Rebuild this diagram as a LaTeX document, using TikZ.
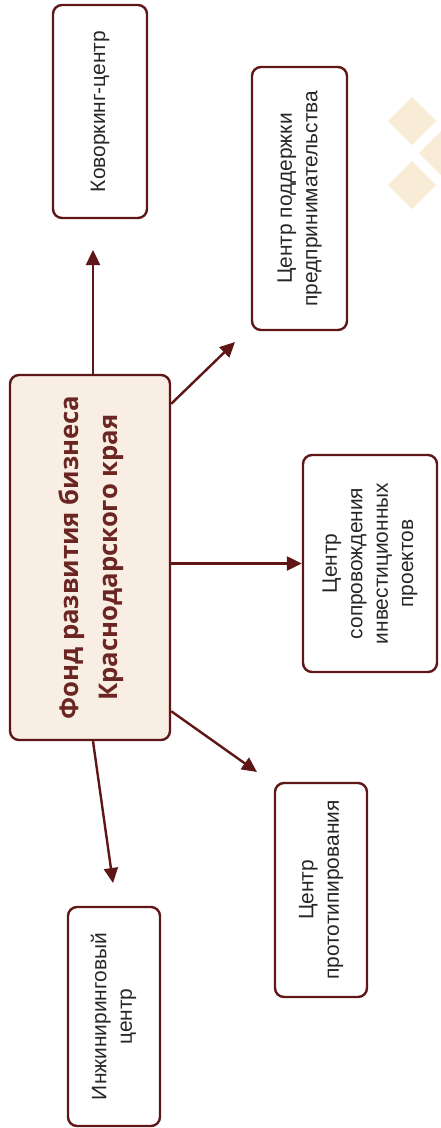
\documentclass[tikz,border=0pt]{standalone}
\usepackage{fontspec}
\setmainfont{Liberation Sans}
\newfontfamily\titlefont{Open Sans}
\usetikzlibrary{arrows.meta}
\definecolor{maroon}{HTML}{5E1616}
\definecolor{ink}{HTML}{6B2522}
\definecolor{cream}{HTML}{F8EEE3}
\definecolor{sand}{HTML}{F9ECD6}
\def\vtext#1{\rotatebox{90}{\begin{tabular}{@{}c@{}}#1\end{tabular}}}

\begin{document}
\begin{tikzpicture}[x=1bp,y=-1bp,line width=2.4bp,
	box/.style={rectangle,rounded corners=9bp,draw=maroon,fill=white,inner sep=0pt,
		font=\fontsize{21}{25.5}\selectfont,text=black!85},
	arr/.style={draw=maroon,-{Triangle[length=15bp,width=14bp]}}]
	\path[use as bounding box,fill=white] (0,0) rectangle (441,1128);
	\foreach \cx/\cy in {412/121,412/185,443/153}
		\fill[sand] (\cx,\cy) +(-24,0) -- +(0,-24) -- +(24,0) -- +(0,24) -- cycle;
	\node (main) at (90,557.5) [box,fill=cream,minimum width=160bp,minimum height=365bp,
		font=\titlefont\bfseries\fontsize{25.8}{40}\selectfont,text=ink]
		{\vtext{Фонд развития бизнеса\\Краснодарского края}};
	\node (kow) at (100,111.5) [box,minimum width=94bp,minimum height=213bp] {\vtext{Коворкинг-центр}};
	\node (podd) at (299.5,198.5) [box,minimum width=95bp,minimum height=263bp] {\vtext{Центр поддержки\\предпринимательства}};
	\node (sopr) at (370,563.5) [box,minimum width=134bp,minimum height=217bp] {\vtext{Центр\\сопровождения\\инвестиционных\\проектов}};
	\node (proto) at (321,890) [box,minimum width=92bp,minimum height=214bp] {\vtext{Центр\\прототипирования}};
	\node (inzh) at (114,1016.5) [box,minimum width=92bp,minimum height=219bp] {\vtext{Инжиниринговый\\центр}};
	\coordinate (kowtip) at (93,250);
	\coordinate (poddtip) at (235,342);
	\coordinate (prototip) at (257,772);
	\coordinate (inzhtip) at (113,883);
	\draw [arr] (main.north -| kowtip) -- (kowtip);
	\draw [arr] ([yshift=-30bp]main.north east) -- (poddtip);
	\draw [arr] (main.east |- sopr.west) -- (sopr.west);
	\draw [arr] ([yshift=30bp]main.south east) -- (prototip);
	\draw [arr] (main.south -| 93,0) -- (inzhtip);
\end{tikzpicture}
\end{document}
